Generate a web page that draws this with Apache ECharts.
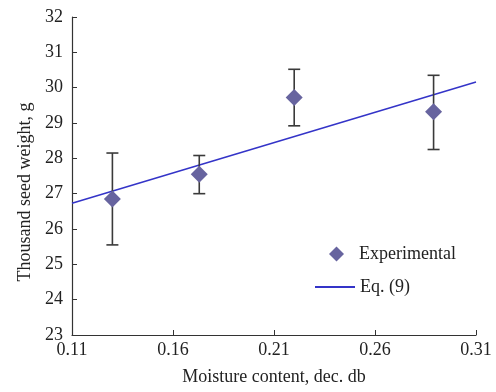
<!DOCTYPE html>
<html>
<head>
<meta charset="utf-8">
<script src="https://cdn.jsdelivr.net/npm/echarts@6/dist/echarts.min.js"></script>
<style>html,body{margin:0;padding:0;background:#fff}#c{width:496px;height:392px}</style>
</head>
<body>
<div id="c"></div>
<script>
const moisture = [0.130, 0.173, 0.220, 0.289];
const weight = [26.85, 27.55, 29.72, 29.32];
const errLow = [25.55, 27.00, 28.92, 28.25];
const errHigh = [28.15, 28.08, 30.52, 30.35];
const fitX = [0.11, 0.31];
const fitY = [26.73, 30.16];

const chart = echarts.init(document.getElementById('c'));
const font = 'Liberation Serif';
const fs = 18;
chart.setOption({
  animation: false,
  textStyle: {fontFamily: font},
  grid: {left: 72, right: 20, top: 17, bottom: 57},
  xAxis: {
    type: 'value', min: 0.11, max: 0.31, interval: 0.05,
    name: 'Moisture content, dec. db', nameLocation: 'middle', nameGap: 33,
    nameTextStyle: {fontFamily: font, fontSize: fs, color: '#222'},
    axisLine: {lineStyle: {color: '#333', width: 1.2}},
    axisTick: {inside: true, length: 5, lineStyle: {color: '#333'}},
    axisLabel: {fontFamily: font, fontSize: fs, color: '#222', margin: 6,
      formatter: v => v.toFixed(2)},
    splitLine: {show: false}
  },
  yAxis: {
    type: 'value', min: 23, max: 32, interval: 1,
    name: 'Thousand seed weight, g', nameLocation: 'middle', nameGap: 37,
    nameTextStyle: {fontFamily: font, fontSize: fs, color: '#222', padding: [0, 32, 0, 0]},
    axisLine: {show: true, lineStyle: {color: '#333', width: 1.2}},
    axisTick: {show: true, inside: true, length: 5, lineStyle: {color: '#333'}},
    axisLabel: {fontFamily: font, fontSize: fs, color: '#222', margin: 9},
    splitLine: {show: false}
  },
  legend: [
    {data: [{name: 'Experimental', icon: 'diamond'}], orient: 'vertical',
     left: 324, top: 240, itemWidth: 15, itemHeight: 15,
     textStyle: {fontFamily: font, fontSize: fs, color: '#222', padding: [0, 0, 0, 10]}},
    {data: [{name: 'Eq. (9)', icon: 'rect'}], orient: 'vertical',
     left: 310, top: 273, itemWidth: 40, itemHeight: 2,
     textStyle: {fontFamily: font, fontSize: fs, color: '#222', padding: [0, 0, 0, 0]}}
  ],
  series: [
    {
      name: 'Eq. (9)', type: 'line', data: fitX.map((x, i) => [x, fitY[i]]),
      symbol: 'none', lineStyle: {color: '#3434c8', width: 1.5}, itemStyle: {color: '#3434c8'}, z: 2
    },
    {
      name: 'err', type: 'custom', z: 3,
      data: moisture.map((x, i) => [x, errLow[i], errHigh[i]]),
      renderItem: (params, api) => {
        const lo = api.coord([api.value(0), api.value(1)]);
        const hi = api.coord([api.value(0), api.value(2)]);
        const w = 6;
        const st = {stroke: '#3a3a3a', lineWidth: 1.6};
        return {type: 'group', children: [
          {type: 'line', shape: {x1: lo[0], y1: lo[1], x2: hi[0], y2: hi[1]}, style: st},
          {type: 'line', shape: {x1: lo[0]-w, y1: lo[1], x2: lo[0]+w, y2: lo[1]}, style: st},
          {type: 'line', shape: {x1: hi[0]-w, y1: hi[1], x2: hi[0]+w, y2: hi[1]}, style: st}
        ]};
      }
    },
    {
      name: 'Experimental', type: 'scatter', symbol: 'diamond', symbolSize: 17, z: 4,
      data: moisture.map((x, i) => [x, weight[i]]),
      itemStyle: {color: '#67649f', opacity: 1}
    }
  ]
});
</script>
</body>
</html>
